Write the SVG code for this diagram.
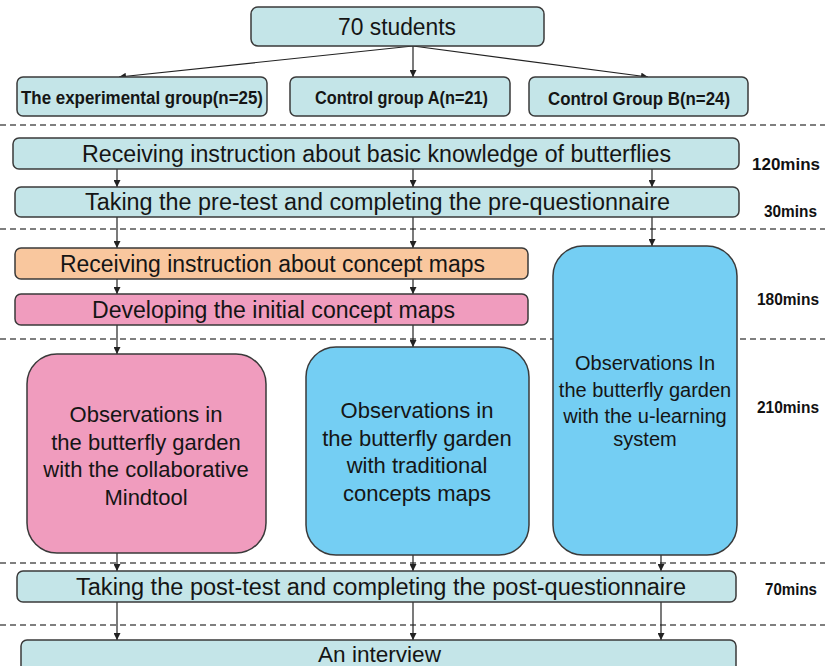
<svg xmlns="http://www.w3.org/2000/svg" width="825" height="666" viewBox="0 0 825 666">
<defs>
<marker id="ah" viewBox="0 0 10 10" refX="10" refY="5" markerWidth="7" markerHeight="7" orient="auto" markerUnits="userSpaceOnUse">
<path d="M0,0 L10,5 L0,10 z" fill="#222"/>
</marker>
<style>
.box{stroke:#3a3a3a;stroke-width:1.5}
.teal{fill:#C4E5E8}
.orange{fill:#F9C79E}
.pink{fill:#F09CBE}
.blue{fill:#74CEF3}
.t{font-family:"Liberation Sans",Arial,sans-serif;fill:#151515}
.wide{font-size:23px}
.grp{font-size:18px;font-weight:bold}
.tall{font-size:22px;text-anchor:middle}
.tall3{font-size:20px;text-anchor:middle}
.time{font-family:"Liberation Sans",Arial,sans-serif;font-size:17px;font-weight:bold;fill:#111}
.dash{stroke:#555;stroke-width:1.5;stroke-dasharray:6 4;fill:none}
.arr{stroke:#222;stroke-width:1.2;fill:none;marker-end:url(#ah)}
</style>
</defs>
<rect width="825" height="666" fill="#ffffff"/>

<g id="dividers">
<line class="dash" x1="0" y1="125" x2="825" y2="125"/>
<line class="dash" x1="0" y1="229" x2="825" y2="229"/>
<line class="dash" x1="0" y1="339" x2="825" y2="339"/>
<line class="dash" x1="0" y1="563" x2="825" y2="563"/>
<line class="dash" x1="0" y1="625" x2="825" y2="625"/>
</g>

<g id="connectors">
<line class="arr" x1="413" y1="46" x2="119" y2="77"/>
<line class="arr" x1="413" y1="46" x2="413" y2="77"/>
<line class="arr" x1="413" y1="46" x2="648" y2="77"/>
<line class="arr" x1="117" y1="169" x2="117" y2="187"/>
<line class="arr" x1="413" y1="169" x2="413" y2="187"/>
<line class="arr" x1="652" y1="169" x2="652" y2="187"/>
<line class="arr" x1="117" y1="217" x2="117" y2="248"/>
<line class="arr" x1="413" y1="217" x2="413" y2="248"/>
<line class="arr" x1="652" y1="217" x2="652" y2="246"/>
<line class="arr" x1="117" y1="279" x2="117" y2="294"/>
<line class="arr" x1="413" y1="279" x2="413" y2="294"/>
<line class="arr" x1="117" y1="325" x2="117" y2="354"/>
<line class="arr" x1="413" y1="325" x2="413" y2="347"/>
<line class="arr" x1="117" y1="553" x2="117" y2="571"/>
<line class="arr" x1="413" y1="555" x2="413" y2="571"/>
<line class="arr" x1="661" y1="555" x2="661" y2="571"/>
<line class="arr" x1="117" y1="602" x2="117" y2="640"/>
<line class="arr" x1="413" y1="602" x2="413" y2="640"/>
<line class="arr" x1="661" y1="602" x2="661" y2="640"/>
</g>

<g id="students">
<rect class="box teal" x="251" y="7" width="293" height="39" rx="7"/>
<text class="t" x="338" y="35" font-size="23" textLength="118" lengthAdjust="spacingAndGlyphs">70 students</text>
</g>
<g id="exp-group">
<rect class="box teal" x="17" y="77" width="250" height="39" rx="6"/>
<text class="t grp" x="21" y="104" textLength="242" lengthAdjust="spacingAndGlyphs">The experimental group(n=25)</text>
</g>
<g id="control-a">
<rect class="box teal" x="290" y="77" width="220" height="39" rx="6"/>
<text class="t grp" x="315" y="104" textLength="173" lengthAdjust="spacingAndGlyphs">Control group A(n=21)</text>
</g>
<g id="control-b">
<rect class="box teal" x="529" y="77" width="219" height="39" rx="6"/>
<text class="t grp" x="548" y="105" textLength="182" lengthAdjust="spacingAndGlyphs">Control Group B(n=24)</text>
</g>

<g id="basic-instruction">
<rect class="box teal" x="13" y="138" width="726" height="31" rx="6"/>
<text class="t wide" x="82" y="162" textLength="589" lengthAdjust="spacingAndGlyphs">Receiving instruction about basic knowledge of butterflies</text>
</g>
<g id="pre-test">
<rect class="box teal" x="15" y="187" width="724" height="30" rx="6"/>
<text class="t wide" x="85" y="210" textLength="585" lengthAdjust="spacingAndGlyphs">Taking  the pre-test and completing the pre-questionnaire</text>
</g>
<g id="concept-instruction">
<rect class="box orange" x="15" y="248" width="513" height="31" rx="6"/>
<text class="t wide" x="60" y="272" textLength="425" lengthAdjust="spacingAndGlyphs">Receiving instruction about concept maps</text>
</g>
<g id="initial-maps">
<rect class="box pink" x="15" y="294" width="513" height="31" rx="6"/>
<text class="t wide" x="92" y="318" textLength="363" lengthAdjust="spacingAndGlyphs">Developing the initial concept maps</text>
</g>

<g id="obs-mindtool">
<rect class="box pink" x="27" y="354" width="239" height="199" rx="30"/>
<text class="t tall" x="146" y="422">Observations in</text>
<text class="t tall" x="146" y="450">the butterfly garden</text>
<text class="t tall" x="146" y="477">with the collaborative</text>
<text class="t tall" x="146" y="505">Mindtool</text>
</g>
<g id="obs-traditional">
<rect class="box blue" x="306" y="347" width="223" height="208" rx="30"/>
<text class="t tall" x="417" y="418">Observations in</text>
<text class="t tall" x="417" y="446">the butterfly garden</text>
<text class="t tall" x="417" y="473">with traditional</text>
<text class="t tall" x="417" y="501">concepts  maps</text>
</g>
<g id="obs-ulearning">
<rect class="box blue" x="553" y="246" width="184" height="309" rx="30"/>
<text class="t tall3" x="645" y="370">Observations In</text>
<text class="t tall3" x="645" y="397">the butterfly garden</text>
<text class="t tall3" x="645" y="423">with the u-learning</text>
<text class="t tall3" x="645" y="446">system</text>
</g>

<g id="post-test">
<rect class="box teal" x="17" y="571" width="719" height="31" rx="6"/>
<text class="t wide" x="76" y="595" textLength="610" lengthAdjust="spacingAndGlyphs">Taking  the post-test and completing the post-questionnaire</text>
</g>
<g id="interview">
<rect class="box teal" x="21" y="640" width="715" height="40" rx="6"/>
<text class="t" x="318" y="662" font-size="22" textLength="123" lengthAdjust="spacingAndGlyphs">An interview</text>
</g>

<g id="times">
<text class="time" x="752" y="170" textLength="68" lengthAdjust="spacingAndGlyphs">120mins</text>
<text class="time" x="764" y="217" textLength="53" lengthAdjust="spacingAndGlyphs">30mins</text>
<text class="time" x="757" y="305" textLength="62" lengthAdjust="spacingAndGlyphs">180mins</text>
<text class="time" x="757" y="413" textLength="62" lengthAdjust="spacingAndGlyphs">210mins</text>
<text class="time" x="765" y="595" textLength="52" lengthAdjust="spacingAndGlyphs">70mins</text>
</g>
</svg>
